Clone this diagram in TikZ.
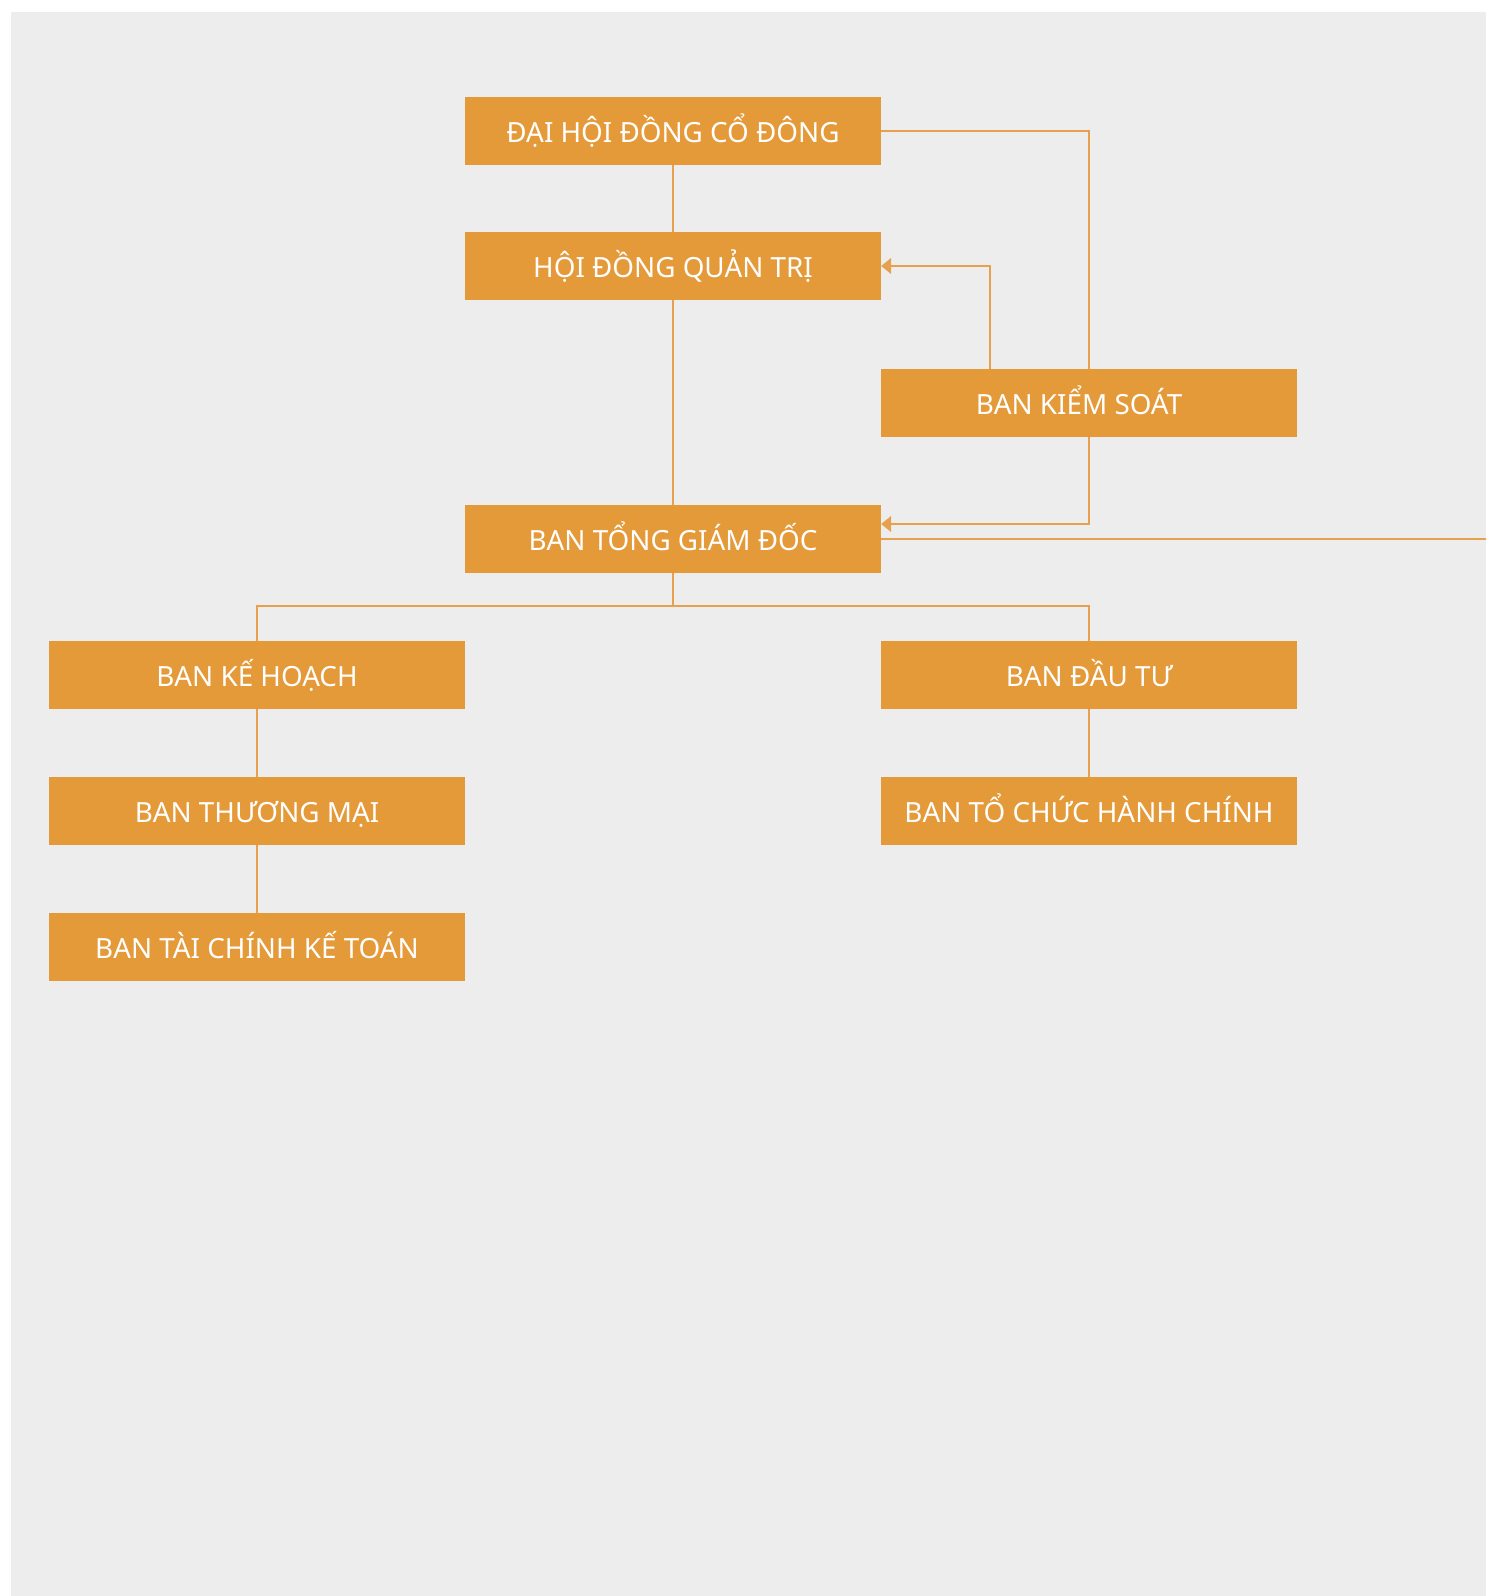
\documentclass[tikz,border=0pt]{standalone}
\usepackage{fontspec}
\setmainfont{Noto Sans}
\usetikzlibrary{arrows.meta}
\definecolor{boxfill}{HTML}{E59A3A}
\definecolor{bg}{HTML}{EDEDED}
\definecolor{linec}{HTML}{E6A04E}
\begin{document}
\begin{tikzpicture}[x=1pt,y=-1pt,
  box/.style={fill=boxfill, text=white, minimum width=416pt, minimum height=68pt, inner sep=0pt, text height=23pt, text depth=0pt, font=\fontsize{27.8}{32}\selectfont},
  conn/.style={draw=linec, line width=1.5pt},
  arr/.style={conn,-{Triangle[length=10pt,width=16pt]}}]
\useasboundingbox (0,0) rectangle (1486,1596);
\fill[white] (0,0) rectangle (1486,1596);
\fill[bg] (11,12) rectangle (1486,1596);
\node[box] (dh) at (673,131) {ĐẠI HỘI ĐỒNG CỔ ĐÔNG};
\node[box] (hd) at (673,266) {HỘI ĐỒNG QUẢN TRỊ};
\node[box] (ks) at (1089,403) {BAN KIỂM SOÁT\hspace*{20pt}};
\node[box] (tg) at (673,539) {BAN TỔNG GIÁM ĐỐC};
\node[box] (kh) at (257,675) {BAN KẾ HOẠCH};
\node[box] (dt) at (1089,675) {BAN ĐẦU TƯ};
\node[box] (tm) at (257,811) {BAN THƯƠNG MẠI};
\node[box] (tc) at (1089,811) {BAN TỔ CHỨC HÀNH CHÍNH};
\node[box] (tk) at (257,947) {BAN TÀI CHÍNH KẾ TOÁN};
\coordinate (edge) at (1486,539);
\coordinate (bus) at (673,606);
\draw[conn] (dh) -- (hd);
\draw[conn] (dh.east) -| (ks.north);
\draw[arr] ([xshift=-99pt]ks.north) |- (hd.east);
\draw[conn] (hd) -- (tg);
\draw[arr] (ks.south) |- ([yshift=15pt]tg.east);
\draw[conn] (tg.east) -- (edge);
\draw[conn] (tg.south) -- (bus);
\draw[conn] (kh.north) |- (bus) -| (dt.north);
\draw[conn] (kh) -- (tm);
\draw[conn] (tm) -- (tk);
\draw[conn] (dt) -- (tc);
\end{tikzpicture}
\end{document}
